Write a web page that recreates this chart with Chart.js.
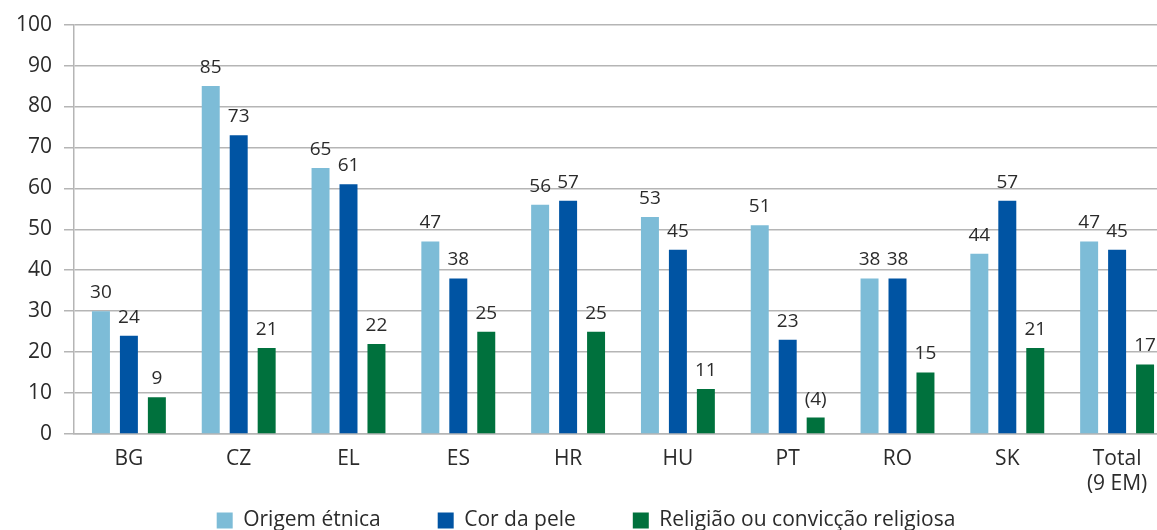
<!DOCTYPE html>
<html>
<head>
<meta charset="utf-8">
<script src="https://cdn.jsdelivr.net/npm/chart.js@4/dist/chart.umd.min.js"></script>
<style>
  html, body { margin: 0; padding: 0; background: #fff; overflow: hidden; }
  #wrap { position: relative; width: 1172px; height: 548px; }
</style>
</head>
<body>
<div id="wrap"><canvas id="chart"></canvas></div>
<script>
var categories = ["BG", "CZ", "EL", "ES", "HR", "HU", "PT", "RO", "SK", ["Total", "(9 EM)"]];
var seriesNames = ["Origem étnica", "Cor da pele", "Religião ou convicção religiosa"];
var ethnicOrigin = [30, 85, 65, 47, 56, 53, 51, 38, 44, 47];
var skinColour = [24, 73, 61, 38, 57, 45, 23, 38, 57, 45];
var religion = [9, 21, 22, 25, 25, 11, 4, 15, 21, 17];
// values shown in brackets (few observations)
var bracketedReligion = ["PT"];
var yTicks = [0, 10, 20, 30, 40, 50, 60, 70, 80, 90, 100];

var colors = ["#7dbcd7", "#0054a3", "#00713d"];
var textColor = "#2b2b2b";
var gridColor = "#b5b5b5";
var fontFamily = "'Open Sans', 'Noto Sans', sans-serif";

var seriesValues = [ethnicOrigin, skinColour, religion];
var datasets = [];
for (var i = 0; i < seriesValues.length; i++) {
  datasets.push({
    label: seriesNames[i],
    data: seriesValues[i],
    backgroundColor: colors[i],
    borderWidth: 0,
    categoryPercentage: 0.764,
    barPercentage: 0.643
  });
}

function labelText(datasetIndex, index, value) {
  var cat = categories[index];
  if (datasetIndex === 2 && bracketedReligion.indexOf(cat) >= 0) {
    return "(" + value + ")";
  }
  return String(value);
}

// value labels above the bars
var valueLabels = {
  id: "valueLabels",
  afterDatasetsDraw: function(chart) {
    var ctx = chart.ctx;
    ctx.save();
    ctx.font = "19px " + fontFamily;
    ctx.fillStyle = textColor;
    ctx.textAlign = "center";
    ctx.textBaseline = "bottom";
    chart.data.datasets.forEach(function(ds, di) {
      var meta = chart.getDatasetMeta(di);
      meta.data.forEach(function(bar, j) {
        ctx.fillText(labelText(di, j, ds.data[j]), bar.x, bar.y - 9);
      });
    });
    ctx.restore();
  }
};

// the legend keeps its wide item padding but takes little height,
// and is drawn a bit higher than its box
var legendFit = {
  id: "legendFit",
  beforeInit: function(chart) {
    var legend = chart.legend;
    var fit = legend.fit;
    legend.fit = function() {
      fit.bind(legend)();
      this.height = 52;
    };
    var draw = legend.draw;
    legend.draw = function() {
      var top = this.top;
      this.top = top - 43;
      draw.apply(legend, arguments);
      this.top = top;
    };
  }
};

new Chart("chart", {
  type: "bar",
  data: {
    labels: categories,
    datasets: datasets
  },
  options: {
    responsive: true,
    maintainAspectRatio: false,
    animation: false,
    devicePixelRatio: 1,
    layout: { padding: { top: 23, right: 0, bottom: 0, left: 0 } },
    plugins: {
      tooltip: { enabled: false },
      legend: {
        position: "bottom",
        labels: {
          boxWidth: 16,
          boxHeight: 16,
          padding: 57,
          color: textColor,
          font: { family: fontFamily, size: 21 }
        }
      }
    },
    scales: {
      x: {
        grid: { display: false },
        border: { display: true, color: gridColor, width: 1.5 },
        ticks: {
          color: textColor,
          padding: 4,
          font: { family: fontFamily, size: 21, lineHeight: 1.22 }
        },
        afterFit: function(scale) { scale.height = 62; }
      },
      y: {
        min: 0,
        max: 100,
        afterBuildTicks: function(scale) {
          scale.ticks = yTicks.map(function(v) { return { value: v }; });
        },
        grid: { color: gridColor, lineWidth: 1.5, tickLength: 10, drawTicks: true },
        border: { display: true, color: gridColor, width: 1.5 },
        ticks: {
          color: textColor,
          padding: 12,
          font: { family: fontFamily, size: 21 }
        },
        afterFit: function(scale) { scale.width = 74; }
      }
    }
  },
  plugins: [valueLabels, legendFit]
});
</script>
</body>
</html>
